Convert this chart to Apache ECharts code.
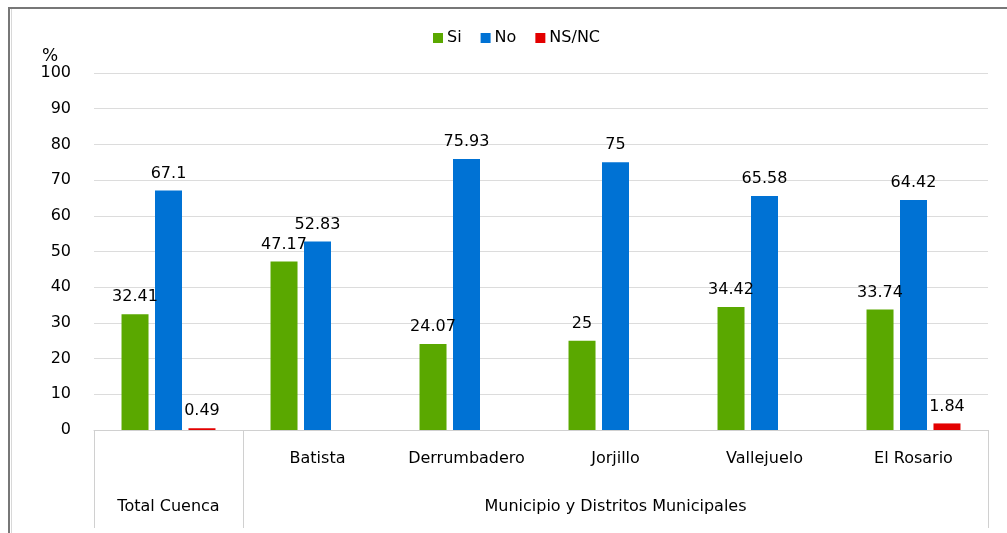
<!DOCTYPE html>
<html>
<head>
<meta charset="utf-8">
<script src="https://cdn.jsdelivr.net/npm/echarts@6/dist/echarts.min.js"></script>
<style>html,body{margin:0;padding:0;background:#fff;}#c{width:1007px;height:533px;}</style>
</head>
<body>
<div id="c"></div>
<script>
var categories = ['Total Cuenca', 'Batista', 'Derrumbadero', 'Jorjillo', 'Vallejuelo', 'El Rosario'];
var groupLabels = ['Total Cuenca', '', '', 'Municipio y Distritos Municipales', '', ''];
var siValues = [32.41, 47.17, 24.07, 25, 34.42, 33.74];
var noValues = [67.1, 52.83, 75.93, 75, 65.58, 64.42];
var nsncValues = [0.49, null, null, null, null, 1.84];
var yTicks = [0, 10, 20, 30, 40, 50, 60, 70, 80, 90, 100];

var font = 'DejaVu Sans';
var chart = echarts.init(document.getElementById('c'), null, {renderer: 'canvas'});

function barSeries(name, data, color) {
  return {
    name: name, type: 'bar', data: data, xAxisIndex: 0,
    barWidth: 27, barGap: '24%',
    itemStyle: {color: color},
    label: {show: true, position: 'top', distance: 9, color: '#000', fontFamily: font, fontSize: 16},
    emphasis: {disabled: true}
  };
}

chart.setOption({
  animation: false,
  backgroundColor: '#fff',
  graphic: [
    {type: 'line', shape: {x1: 8, y1: 8, x2: 1007, y2: 8}, style: {stroke: '#777', lineWidth: 2}, silent: true},
    {type: 'line', shape: {x1: 9, y1: 7, x2: 9, y2: 533}, style: {stroke: '#777', lineWidth: 2}, silent: true},
    {type: 'line', shape: {x1: 11.5, y1: 9, x2: 11.5, y2: 533}, style: {stroke: '#d8d8d8', lineWidth: 1}, silent: true}
  ],
  legend: {
    left: 428, top: 25, itemWidth: 10, itemHeight: 10, itemGap: 19, icon: 'rect',
    textStyle: {fontFamily: font, fontSize: 16, color: '#000', padding: [0, 0, 0, -1]},
    data: ['Si', 'No', 'NS/NC']
  },
  grid: {left: 94, right: 19, top: 73, bottom: 103, containLabel: false},
  xAxis: [{
    type: 'category', data: categories, position: 'bottom',
    axisLine: {show: true, lineStyle: {color: '#d0d0d0', width: 1}},
    axisTick: {show: true, length: 98, interval: function (i) { return i <= 1; }, lineStyle: {color: '#d0d0d0', width: 1}},
    axisLabel: {
      interval: 0, margin: 21, color: '#000', fontFamily: font, fontSize: 16,
      formatter: function (v, i) { return i === 0 ? '' : v; }
    }
  }, {
    type: 'category', data: groupLabels, position: 'bottom',
    axisLine: {show: false}, axisTick: {show: false},
    axisLabel: {interval: 0, margin: 69, color: '#000', fontFamily: font, fontSize: 16}
  }],
  yAxis: {
    type: 'value', min: 0, max: 100, interval: 10,
    name: '%', nameLocation: 'end', nameGap: 10,
    nameTextStyle: {fontFamily: font, fontSize: 17, color: '#000', align: 'center', padding: [0, 88, -6, 0]},
    axisLine: {show: false}, axisTick: {show: false},
    axisLabel: {margin: 23, color: '#000', fontFamily: font, fontSize: 16,
      formatter: function (v) { return yTicks.indexOf(v) >= 0 ? String(v) : ''; }},
    splitLine: {show: true, lineStyle: {color: '#dcdcdc', width: 1}}
  },
  series: [
    barSeries('Si', siValues, '#5aa800'),
    barSeries('No', noValues, '#0072d4'),
    barSeries('NS/NC', nsncValues, '#e30000')
  ]
});
</script>
</body>
</html>
